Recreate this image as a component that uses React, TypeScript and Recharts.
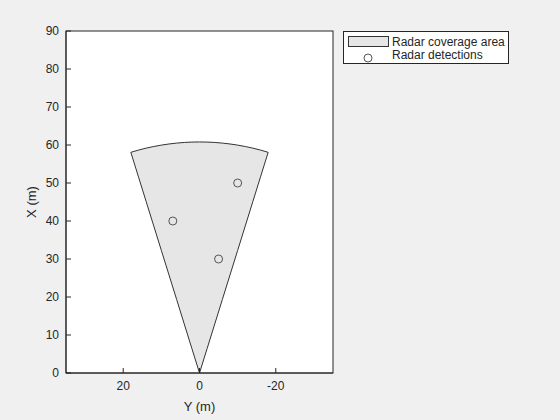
import React from 'react';
import { ComposedChart, Area, Scatter, XAxis, YAxis, Label } from 'recharts';

// Sector (radar coverage) outline: lateral position Y, near edge X and far edge (arc) X
const sectorY = [18, 16, 14, 12, 10, 8, 6, 4, 2, 0, -2, -4, -6, -8, -10, -12, -14, -16, -18];
const sectorNear = [58.07, 51.62, 45.16, 38.71, 32.26, 25.81, 19.36, 12.9, 6.45, 0, 6.45, 12.9, 19.36, 25.81, 32.26, 38.71, 45.16, 51.62, 58.07];
const sectorFar = [58.07, 58.66, 59.17, 59.6, 59.97, 60.27, 60.5, 60.67, 60.77, 60.8, 60.77, 60.67, 60.5, 60.27, 59.97, 59.6, 59.17, 58.66, 58.07];

// Radar detections
const detY = [7, -5, -10];
const detX = [40, 30, 50];

const xTicks = [20, 0, -20];
const yTicks = [0, 10, 20, 30, 40, 50, 60, 70, 80, 90];

const sectorData = sectorY.map((y, i) => ({ y, x: [sectorNear[i], sectorFar[i]] }));
const detData = detY.map((y, i) => ({ y, x: detX[i] }));

const FONT = '"Liberation Sans", Arial, Helvetica, sans-serif';
const INK = '#262626';
const tickStyle = { fill: INK, fontSize: 12, fontFamily: FONT };

const HollowCircle = (props: any) => {
  const { cx, cy } = props;
  if (cx == null || cy == null) return null;
  return <circle cx={cx} cy={cy} r={4} fill="none" stroke="#555555" strokeWidth={1} />;
};
const NoShape = () => <g />;

export default function App() {
  return (
    <div style={{ position: 'absolute', left: 0, top: 0, width: 560, height: 420, background: '#f0f0f0' }}>
      <ComposedChart
        width={560}
        height={420}
        data={sectorData}
        margin={{ top: 31, right: 227, bottom: 0, left: 0 }}
        style={{ fontFamily: FONT }}
      >
        <rect x={66} y={31} width={267} height={342} fill="#ffffff" stroke={INK} strokeWidth={1} />
        <XAxis
          xAxisId="b"
          dataKey="y"
          type="number"
          domain={[-35, 35]}
          reversed
          ticks={xTicks}
          height={47}
          tickSize={-5}
          tickMargin={13}
          stroke={INK}
          tick={tickStyle}
          allowDataOverflow
        >
          <Label value="Y (m)" position="insideBottom" offset={9} style={{ fill: INK, fontSize: 13, fontFamily: FONT }} />
        </XAxis>
        <XAxis
          xAxisId="t"
          dataKey="y"
          type="number"
          orientation="top"
          domain={[-35, 35]}
          reversed
          ticks={xTicks}
          height={0}
          tickSize={-5}
          tick={false}
          stroke={INK}
          allowDataOverflow
        />
        <YAxis
          yAxisId="l"
          dataKey="x"
          type="number"
          domain={[0, 90]}
          ticks={yTicks}
          width={66}
          tickSize={-5}
          tickMargin={12}
          stroke={INK}
          tick={tickStyle}
          allowDataOverflow
        >
          <Label
            value="X (m)"
            angle={-90}
            position="insideLeft"
            offset={31}
            style={{ fill: INK, fontSize: 13, fontFamily: FONT, textAnchor: 'middle' }}
          />
        </YAxis>
        <YAxis
          yAxisId="r"
          dataKey="x"
          type="number"
          orientation="right"
          domain={[0, 90]}
          ticks={yTicks}
          width={0}
          tickSize={-5}
          tick={false}
          stroke={INK}
          allowDataOverflow
        />
        <Area
          xAxisId="b"
          yAxisId="l"
          dataKey="x"
          type="linear"
          fill="#e6e6e6"
          fillOpacity={1}
          stroke="#333333"
          strokeWidth={1}
          dot={false}
          activeDot={false}
          isAnimationActive={false}
        />
        <Scatter
          xAxisId="b"
          yAxisId="l"
          data={detData}
          dataKey="x"
          shape={HollowCircle}
          isAnimationActive={false}
        />
        <Scatter
          xAxisId="t"
          yAxisId="r"
          data={detData}
          dataKey="x"
          shape={NoShape}
          legendType="none"
          isAnimationActive={false}
        />
      </ComposedChart>
      <div
        style={{
          position: 'absolute',
          left: 343,
          top: 31,
          width: 164,
          height: 31,
          background: '#ffffff',
          border: `1px solid ${INK}`,
          fontFamily: FONT,
          fontSize: 12,
          color: INK,
        }}
      >
        <svg width={164} height={31} style={{ position: 'absolute', left: 0, top: 0 }}>
          <rect x={4.5} y={4.5} width={40} height={10} fill="#e6e6e6" stroke="#333333" strokeWidth={1} />
          <text x={48} y={14} fill={INK} fontSize={12} fontFamily={FONT}>Radar coverage area</text>
          <circle cx={24} cy={26} r={4} fill="none" stroke="#555555" strokeWidth={1} />
          <text x={48} y={27} fill={INK} fontSize={12} fontFamily={FONT}>Radar detections</text>
        </svg>
      </div>
    </div>
  );
}
